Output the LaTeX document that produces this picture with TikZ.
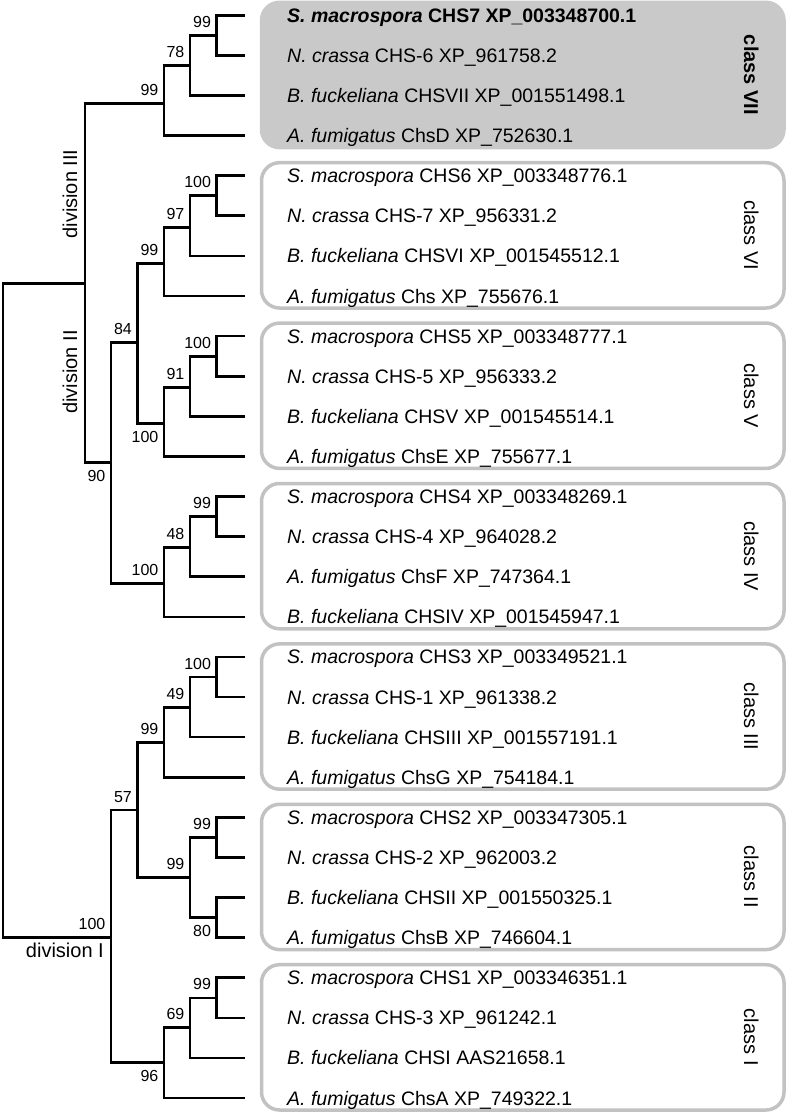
\documentclass[tikz,border=0pt]{standalone}
\usepackage{fontspec}
\setmainfont{Liberation Sans}
\definecolor{boxgray}{HTML}{C2C2C2}
\definecolor{boxfill}{HTML}{C9C9C9}
\begin{document}
\begin{tikzpicture}[x=1pt,y=-1pt,
  branch/.style={line width=2.6pt},
  bs/.style={font=\fontsize{16}{16}\selectfont, anchor=base east, inner sep=0pt},
  leaf/.style={font=\fontsize{19.5}{20}\selectfont, anchor=base west, inner sep=0pt},
  classbox/.style={draw=boxgray, line width=3.5pt, rounded corners=18pt},
  classlbl/.style={font=\fontsize{20}{20}\selectfont, rotate=-90, anchor=base, inner sep=0pt},
  divlbl/.style={font=\fontsize{20}{20}\selectfont, inner sep=0pt}]
\useasboundingbox (0,0) rectangle (791,1115);

% class boxes
\draw[classbox, draw=boxfill, fill=boxfill] (261.5,2.3) rectangle (784,147.6);
\draw[classbox] (261.5,162.7) rectangle (784,308);
\draw[classbox] (261.5,323.1) rectangle (784,468.4);
\draw[classbox] (261.5,483.5) rectangle (784,628.8);
\draw[classbox] (261.5,643.9) rectangle (784,789.2);
\draw[classbox] (261.5,804.3) rectangle (784,949.6);
\draw[classbox] (261.5,964.7) rectangle (784,1110);

\node[classlbl, font=\fontsize{20}{20}\selectfont\bfseries] (cVII) at (744,75) {class VII};
\node[classlbl] (cVI) at (744,235.3) {class VI};
\node[classlbl] (cV) at (744,395.7) {class V};
\node[classlbl] (cIV) at (744,556.1) {class IV};
\node[classlbl] (cIII) at (744,716.5) {class III};
\node[classlbl] (cII) at (744,876.9) {class II};
\node[classlbl] (cI) at (744,1037.3) {class I};

% leaf ends
\foreach \i/\y in {0/15.3,1/55.4,2/95.5,3/135.6,4/175.7,5/215.8,6/255.9,7/296.0,
  8/336.1,9/376.2,10/416.3,11/456.4,12/496.5,13/536.6,14/576.7,15/616.8,
  16/656.9,17/697.0,18/737.1,19/777.2,20/817.3,21/857.4,22/897.5,23/937.6,
  24/977.7,25/1017.8,26/1057.9,27/1098.0}
  \coordinate (L\i) at (245,\y);

% leaf labels
\path (L0) ++(42,7) node[leaf] (t0) {\bfseries\textit{S. macrospora} CHS7 XP\_003348700.1};
\path (L1) ++(42,7) node[leaf] (t1) {\textit{N. crassa} CHS-6 XP\_961758.2};
\path (L2) ++(42,7) node[leaf] (t2) {\textit{B. fuckeliana} CHSVII XP\_001551498.1};
\path (L3) ++(42,7) node[leaf] (t3) {\textit{A. fumigatus} ChsD XP\_752630.1};
\path (L4) ++(42,7) node[leaf] (t4) {\textit{S. macrospora} CHS6 XP\_003348776.1};
\path (L5) ++(42,7) node[leaf] (t5) {\textit{N. crassa} CHS-7 XP\_956331.2};
\path (L6) ++(42,7) node[leaf] (t6) {\textit{B. fuckeliana} CHSVI XP\_001545512.1};
\path (L7) ++(42,7) node[leaf] (t7) {\textit{A. fumigatus} Chs XP\_755676.1};
\path (L8) ++(42,7) node[leaf] (t8) {\textit{S. macrospora} CHS5 XP\_003348777.1};
\path (L9) ++(42,7) node[leaf] (t9) {\textit{N. crassa} CHS-5 XP\_956333.2};
\path (L10) ++(42,7) node[leaf] (t10) {\textit{B. fuckeliana} CHSV XP\_001545514.1};
\path (L11) ++(42,7) node[leaf] (t11) {\textit{A. fumigatus} ChsE XP\_755677.1};
\path (L12) ++(42,7) node[leaf] (t12) {\textit{S. macrospora} CHS4 XP\_003348269.1};
\path (L13) ++(42,7) node[leaf] (t13) {\textit{N. crassa} CHS-4 XP\_964028.2};
\path (L14) ++(42,7) node[leaf] (t14) {\textit{A. fumigatus} ChsF XP\_747364.1};
\path (L15) ++(42,7) node[leaf] (t15) {\textit{B. fuckeliana} CHSIV XP\_001545947.1};
\path (L16) ++(42,7) node[leaf] (t16) {\textit{S. macrospora} CHS3 XP\_003349521.1};
\path (L17) ++(42,7) node[leaf] (t17) {\textit{N. crassa} CHS-1 XP\_961338.2};
\path (L18) ++(42,7) node[leaf] (t18) {\textit{B. fuckeliana} CHSIII XP\_001557191.1};
\path (L19) ++(42,7) node[leaf] (t19) {\textit{A. fumigatus} ChsG XP\_754184.1};
\path (L20) ++(42,7) node[leaf] (t20) {\textit{S. macrospora} CHS2 XP\_003347305.1};
\path (L21) ++(42,7) node[leaf] (t21) {\textit{N. crassa} CHS-2 XP\_962003.2};
\path (L22) ++(42,7) node[leaf] (t22) {\textit{B. fuckeliana} CHSII XP\_001550325.1};
\path (L23) ++(42,7) node[leaf] (t23) {\textit{A. fumigatus} ChsB XP\_746604.1};
\path (L24) ++(42,7) node[leaf] (t24) {\textit{S. macrospora} CHS1 XP\_003346351.1};
\path (L25) ++(42,7) node[leaf] (t25) {\textit{N. crassa} CHS-3 XP\_961242.1};
\path (L26) ++(42,7) node[leaf] (t26) {\textit{B. fuckeliana} CHSI AAS21658.1};
\path (L27) ++(42,7) node[leaf] (t27) {\textit{A. fumigatus} ChsA XP\_749322.1};

% internal nodes
\coordinate (n7a) at (216.7,35.3);
\coordinate (n7b) at (190,65.7);
\coordinate (n7c) at (164,103.3);
\coordinate (n85) at (85,283.3);
\coordinate (n6a) at (216.7,195.8);
\coordinate (n6b) at (190,227.7);
\coordinate (n6c) at (164,263.3);
\coordinate (n5a) at (216.7,356.2);
\coordinate (n5b) at (190,387.7);
\coordinate (n5c) at (164,423.3);
\coordinate (n4a) at (216.7,516.6);
\coordinate (n4b) at (190,547.7);
\coordinate (n4c) at (164,583.3);
\coordinate (n56) at (137.5,342.7);
\coordinate (nII) at (111,462.7);
\coordinate (n3a) at (216.7,677.0);
\coordinate (n3b) at (190,707.7);
\coordinate (n3c) at (164,742.7);
\coordinate (n2a) at (216.7,837.4);
\coordinate (n2b) at (216.7,917.6);
\coordinate (n2c) at (190,877.7);
\coordinate (n23) at (137.5,810);
\coordinate (n1a) at (216.7,997.8);
\coordinate (n1b) at (190,1027.7);
\coordinate (n1c) at (164,1062.3);
\coordinate (nI) at (111,937.3);
\coordinate (root) at (3,610.3);

% branches
\foreach \p/\c in {n7a/L0,n7a/L1,n7b/n7a,n7b/L2,n7c/n7b,n7c/L3,
  n85/n7c,n85/nII,nII/n56,nII/n4c,n56/n6c,n56/n5c,
  n6c/n6b,n6c/L7,n6b/n6a,n6b/L6,n6a/L4,n6a/L5,
  n5c/n5b,n5c/L11,n5b/n5a,n5b/L10,n5a/L8,n5a/L9,
  n4c/n4b,n4c/L15,n4b/n4a,n4b/L14,n4a/L12,n4a/L13,
  root/n85,root/nI,nI/n23,nI/n1c,n23/n3c,n23/n2c,
  n3c/n3b,n3c/L19,n3b/n3a,n3b/L18,n3a/L16,n3a/L17,
  n2c/n2a,n2c/n2b,n2a/L20,n2a/L21,n2b/L22,n2b/L23,
  n1c/n1b,n1c/L27,n1b/n1a,n1b/L26,n1a/L24,n1a/L25}
  \draw[branch] (\p) |- (\c);

% bootstrap values (above)
\foreach \n/\v in {n7a/99,n7b/78,n7c/99,n6a/100,n6b/97,n6c/99,n56/84,
  n5a/100,n5b/91,n4a/99,n4b/48,n4c/100,nI/100,n23/57,n3a/100,n3b/49,n3c/99,
  n2a/99,n2c/99,n1a/99,n1b/69}
  \node[bs] (bs-\n) at ([shift={(-5.5,-8)}]\n) {\v};
% bootstrap values (below)
\foreach \n/\v in {n5c/100,nII/90,n2b/80,n1c/96}
  \node[bs] (bs-\n) at ([shift={(-5.5,19)}]\n) {\v};

% division labels
\node[divlbl, rotate=90, anchor=base] (d3) at (77,194) {division III};
\node[divlbl, rotate=90, anchor=base] (d2) at (77,372) {division II};
\node[divlbl, anchor=base east] (d1) at (104,957) {division I};
\end{tikzpicture}
\end{document}
